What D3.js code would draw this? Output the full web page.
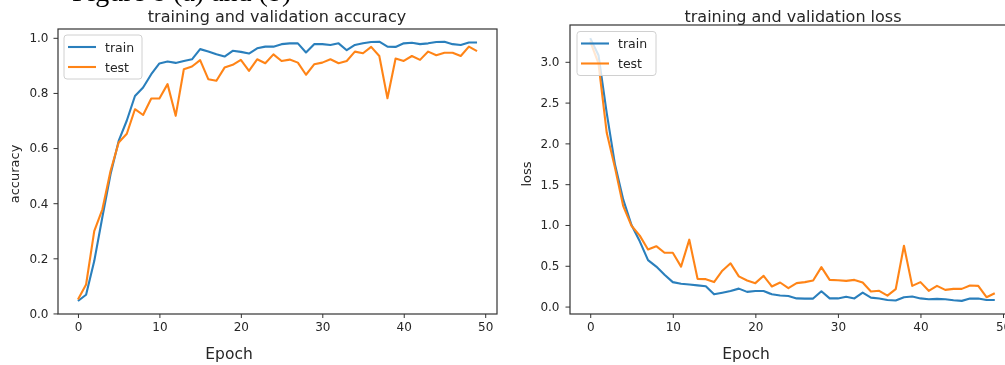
<!DOCTYPE html>
<html>
<head>
<meta charset="utf-8">
<script src="https://cdn.jsdelivr.net/npm/d3@7"></script>
<style>
  html, body { margin: 0; padding: 0; background: #fff; overflow: hidden; }
  svg { display: block; }
  text { font-family: "DejaVu Sans", sans-serif; fill: #262626; }
</style>
</head>
<body>
<svg id="chart" width="1005" height="365"></svg>
<script>
// ---- data ----
const epochs = [0,1,2,3,4,5,6,7,8,9,10,11,12,13,14,15,16,17,18,19,20,21,22,23,24,25,26,27,28,29,30,31,32,33,34,35,36,37,38,39,40,41,42,43,44,45,46,47,48,49];

const trainAcc = [0.045,0.068,0.19,0.35,0.505,0.626,0.70,0.789,0.82,0.868,
                  0.907,0.914,0.909,0.916,0.922,0.959,0.95,0.94,0.932,0.953,
                  0.949,0.943,0.962,0.968,0.968,0.977,0.98,0.98,0.947,0.977,
                  0.977,0.974,0.98,0.955,0.974,0.98,0.985,0.986,0.968,0.967,
                  0.98,0.982,0.977,0.98,0.985,0.986,0.977,0.974,0.983,0.983];
const testAcc  = [0.051,0.105,0.299,0.378,0.517,0.62,0.652,0.741,0.72,0.78,
                  0.78,0.832,0.717,0.886,0.896,0.919,0.85,0.844,0.892,0.902,
                  0.92,0.88,0.922,0.908,0.94,0.916,0.921,0.91,0.866,0.904,
                  0.91,0.922,0.908,0.916,0.95,0.944,0.967,0.934,0.781,0.925,
                  0.916,0.934,0.92,0.95,0.937,0.946,0.946,0.934,0.968,0.952];
const trainLoss = [3.29,3.08,2.37,1.74,1.31,1.0,0.80,0.57,0.49,0.39,
                   0.30,0.28,0.27,0.26,0.25,0.15,0.17,0.19,0.22,0.18,
                   0.19,0.19,0.15,0.135,0.13,0.10,0.098,0.098,0.188,0.10,
                   0.10,0.12,0.10,0.172,0.11,0.098,0.08,0.074,0.115,0.123,
                   0.10,0.09,0.094,0.09,0.078,0.07,0.098,0.098,0.08,0.08];
const testLoss  = [3.25,2.98,2.13,1.70,1.23,0.99,0.87,0.70,0.74,0.66,
                   0.66,0.49,0.82,0.34,0.336,0.30,0.44,0.53,0.37,0.32,
                   0.287,0.377,0.246,0.295,0.226,0.287,0.30,0.32,0.483,0.327,
                   0.323,0.315,0.327,0.295,0.185,0.193,0.135,0.213,0.745,0.254,
                   0.30,0.193,0.254,0.205,0.217,0.217,0.258,0.254,0.115,0.164];

const xTicks = [0,10,20,30,40,50];
const accTicks = [0.0,0.2,0.4,0.6,0.8,1.0];
const lossTicks = [0.0,0.5,1.0,1.5,2.0,2.5,3.0];
const seriesNames = ["train","test"];
const titles = ["training and validation accuracy","training and validation loss"];
const yLabels = ["accuracy","loss"];
const xLabel = "Epoch";
const caption = "Figure 8 (a) and (b)";

const colors = ["#2a7fbc","#ff8418"];
const svg = d3.select("#chart");
const defs = svg.append("defs");
defs.append("filter").attr("id","soft").attr("x","-5%").attr("y","-5%").attr("width","110%").attr("height","110%")
  .append("feGaussianBlur").attr("stdDeviation",0.45);

const root = svg.append("g").attr("filter","url(#soft)");

// cut-off caption line at the top of the picture (only its lowest part is visible)
root.append("text").attr("x",72).attr("y",1)
  .style("font-family","'Liberation Serif', serif").style("font-size","28px").style("fill","#000")
  .text(caption);

function panel(cfg) {
  const {left,right,top,bottom,ydom,yticks,series,title,titleX,ylab,ylabX,xlabX,legend,tickW} = cfg;
  const x = d3.scaleLinear().domain([-2.45,51.45]).range([left,right]);
  const y = d3.scaleLinear().domain(ydom).range([bottom,top]);
  const g = root.append("g");

  // data lines
  const line = (vals) => d3.line().x((d,i)=>x(epochs[i])).y(d=>y(d))(vals);
  series.forEach((vals,k)=>{
    g.append("path").attr("d",line(vals)).attr("fill","none")
      .attr("stroke",colors[k]).attr("stroke-width",2.1).attr("stroke-linejoin","round");
  });

  // axes
  const xa = g.append("g").attr("transform",`translate(0,${bottom})`)
    .call(d3.axisBottom(x).tickValues(xTicks).tickSize(4).tickPadding(4).tickFormat(d3.format("d")));
  const ya = g.append("g").attr("transform",`translate(${left},0)`)
    .call(d3.axisLeft(y).tickValues(yticks).tickSize(4.5).tickPadding(tickW).tickFormat(d3.format(".1f")));
  [xa,ya].forEach(a=>{
    a.select(".domain").remove();
    a.selectAll(".tick line").attr("stroke","#333").attr("stroke-width",1);
    a.selectAll(".tick text").style("font-family","'DejaVu Sans', sans-serif").style("font-size","12px").attr("fill","#333");
  });

  // frame
  g.append("rect").attr("x",left).attr("y",top).attr("width",right-left).attr("height",bottom-top)
    .attr("fill","none").attr("stroke","#333").attr("stroke-width",1.2);

  // legend
  const lg = g.append("g");
  lg.append("rect").attr("x",legend.x).attr("y",legend.y).attr("width",legend.w).attr("height",legend.h)
    .attr("rx",3).attr("fill","#fff").attr("fill-opacity",0.8).attr("stroke","#d0d0d0").attr("stroke-width",1);
  seriesNames.forEach((n,k)=>{
    const yy = legend.y + 12 + k*20;
    lg.append("line").attr("x1",legend.x+4).attr("x2",legend.x+32).attr("y1",yy).attr("y2",yy)
      .attr("stroke",colors[k]).attr("stroke-width",2.1);
    lg.append("text").attr("x",legend.x+41).attr("y",yy+4.5).style("font-size","12.5px").text(n);
  });

  // texts
  g.append("text").attr("x",titleX).attr("y",21.5).attr("text-anchor","middle").style("font-size","16px").text(title);
  g.append("text").attr("transform",`translate(${ylabX},174) rotate(-90)`).attr("text-anchor","middle")
    .style("font-size","13px").text(ylab);
  g.append("text").attr("x",xlabX).attr("y",359).attr("text-anchor","middle").style("font-size","15.5px").text(xLabel);
}

panel({left:58,right:497,top:29,bottom:314,ydom:[-0.002,1.032],yticks:accTicks,series:[trainAcc,testAcc],
  title:titles[0],titleX:277,ylab:yLabels[0],ylabX:19,xlabX:229,legend:{x:64,y:35,w:78,h:44},tickW:5});
panel({left:570,right:1015,top:25,bottom:314,ydom:[-0.091,3.451],yticks:lossTicks,series:[trainLoss,testLoss],
  title:titles[1],titleX:793,ylab:yLabels[1],ylabX:531,xlabX:746,legend:{x:577,y:31.5,w:79,h:44},tickW:6});
</script>
</body>
</html>
